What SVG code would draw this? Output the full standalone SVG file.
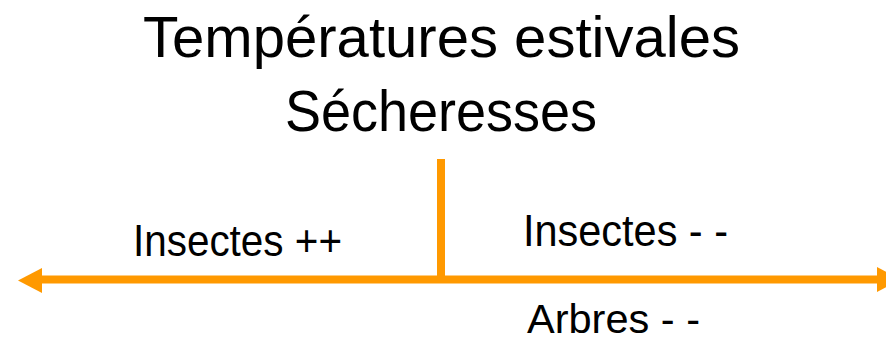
<svg xmlns="http://www.w3.org/2000/svg" width="886" height="342" viewBox="0 0 886 342">
<style>
.t{font-family:"Liberation Sans","Open Sans",sans-serif;fill:#000}
.big{font-size:58px}
.small{font-size:44px}
.ln{stroke:#FF9900;stroke-width:8;fill:none}
.ah{fill:#FF9900}
</style>
<rect width="886" height="342" fill="#fff"/>
<g id="title">
<text class="t big" x="143" y="57" textLength="597" lengthAdjust="spacingAndGlyphs">Températures estivales</text>
<text class="t big" x="285" y="131" textLength="312" lengthAdjust="spacingAndGlyphs">Sécheresses</text>
</g>
<g id="connectors">
<line class="ln" x1="40" y1="279.5" x2="879" y2="279.5"/>
<polygon class="ah" points="18,280.5 42,268 42,293"/>
<polygon class="ah" points="877,267 901,279.5 877,292"/>
<line class="ln" x1="441" y1="159" x2="441" y2="279"/>
</g>
<g id="left-label">
<text class="t small" x="133" y="256" textLength="209" lengthAdjust="spacingAndGlyphs">Insectes ++</text>
</g>
<g id="right-label">
<text class="t small" x="523" y="246" textLength="205" lengthAdjust="spacingAndGlyphs">Insectes - -</text>
</g>
<g id="bottom-label">
<text class="t" style="font-size:41px" x="527" y="333" textLength="173" lengthAdjust="spacingAndGlyphs">Arbres - -</text>
</g>
</svg>
